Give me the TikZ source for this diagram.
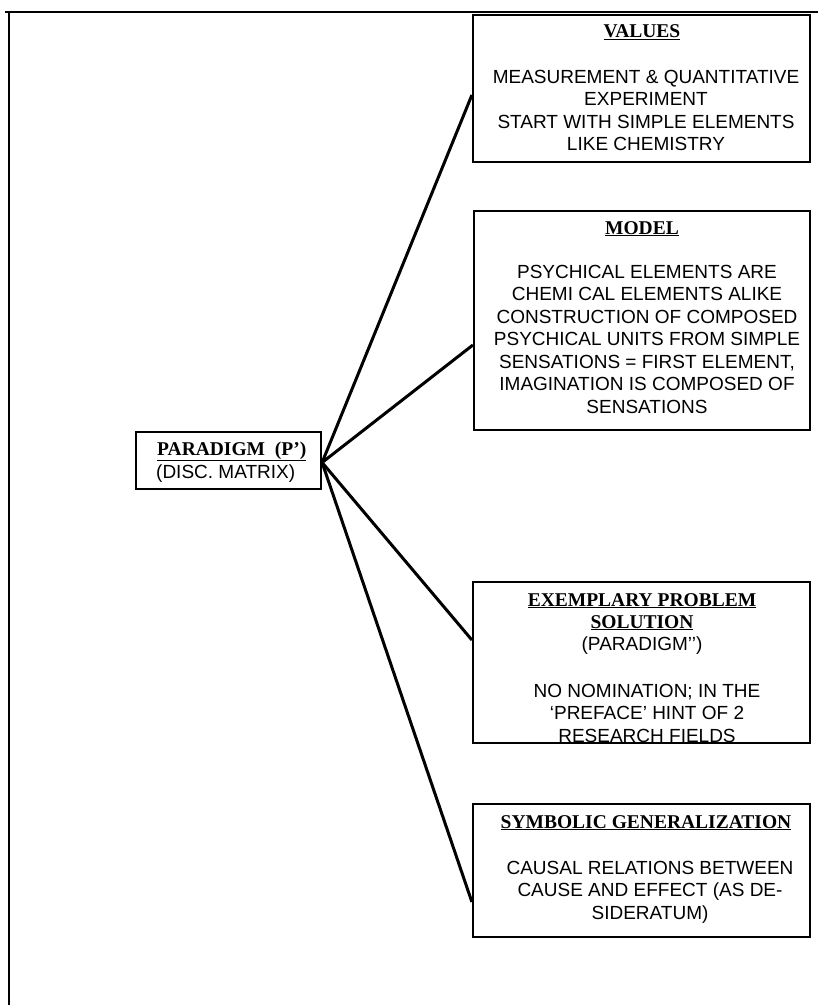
\documentclass[tikz,border=0pt]{standalone}
\usepackage{fontspec}
\setmainfont{Liberation Serif}
\newfontfamily\bodyfont{Liberation Sans}
\newcommand\mlines[1]{\begin{tabular}[t]{@{}c@{}}#1\end{tabular}}
\begin{document}
\begin{tikzpicture}[x=1pt,y=-1pt,
  frame/.style={line width=2.2pt},
  box/.style={draw, line width=2.2pt, rectangle, inner sep=0pt},
  conn/.style={line width=3pt},
  ttl/.style={font=\fontsize{19.5}{22}\selectfont\bfseries, anchor=base, inner sep=0pt},
  body/.style={font=\fontsize{19}{22.5}\selectfont\bodyfont, anchor=base, inner sep=0pt}
]
\useasboundingbox (0,0) rectangle (818,1005);
\draw[frame] (5,12) -- (818,12) (9,11) -- (9,1005);

% texts
\node[ttl] (tval) at (642,37) {\underline{VALUES}};
\node[body] (bval) at (646,83) {\mlines{MEASUREMENT \& QUANTITATIVE\\EXPERIMENT\\START WITH SIMPLE ELEMENTS\\LIKE CHEMISTRY}};

\node[ttl] (tmod) at (642,234) {\underline{MODEL}};
\node[body] (bmod) at (647,278) {\mlines{PSYCHICAL ELEMENTS ARE\\CHEMI CAL ELEMENTS ALIKE\\CONSTRUCTION OF COMPOSED\\PSYCHICAL UNITS FROM SIMPLE\\SENSATIONS = FIRST ELEMENT,\\IMAGINATION IS COMPOSED OF\\SENSATIONS}};

\node[ttl, anchor=base west] (tpar) at (157,455) {\underline{PARADIGM\ \ (P’)}};
\node[body, anchor=base west] (bpar) at (156,478) {(DISC. MATRIX)};

\node[ttl] (tex) at (642,606) {\mlines{\underline{EXEMPLARY PROBLEM}\\\underline{SOLUTION}}};
\node[body] (pex) at (642,650) {(PARADIGM’’)};
\node[body] (bex) at (647,697) {\mlines{NO NOMINATION; IN THE\\‘PREFACE’ HINT OF 2\\RESEARCH FIELDS}};

\node[ttl] (tsym) at (646,828) {\underline{SYMBOLIC GENERALIZATION}};
\node[body] (bsym) at (650,874) {\mlines{CAUSAL RELATIONS BETWEEN\\CAUSE AND EFFECT (AS DE-\\SIDERATUM)}};

% boxes
\node[box, minimum width=337pt, minimum height=147pt] (values) at (641.5,88.5) {};
\node[box, minimum width=336pt, minimum height=219pt] (model) at (642,320.5) {};
\node[box, minimum width=185pt, minimum height=57pt] (par) at (228.5,460.5) {};
\node[box, minimum width=337pt, minimum height=161pt] (exem) at (641.5,662.5) {};
\node[box, minimum width=337pt, minimum height=133pt] (symb) at (641.5,870.5) {};

% connectors
\draw[conn] ([yshift=-2pt]par.east) -- ([yshift=-6.5pt]values.west);
\draw[conn] ([yshift=-2pt]par.east) -- ([yshift=-24.5pt]model.west);
\draw[conn] ([yshift=-2pt]par.east) -- ([yshift=22.5pt]exem.west);
\draw[conn] ([yshift=-2pt]par.east) -- ([yshift=-31.5pt]symb.west);
\end{tikzpicture}
\end{document}
